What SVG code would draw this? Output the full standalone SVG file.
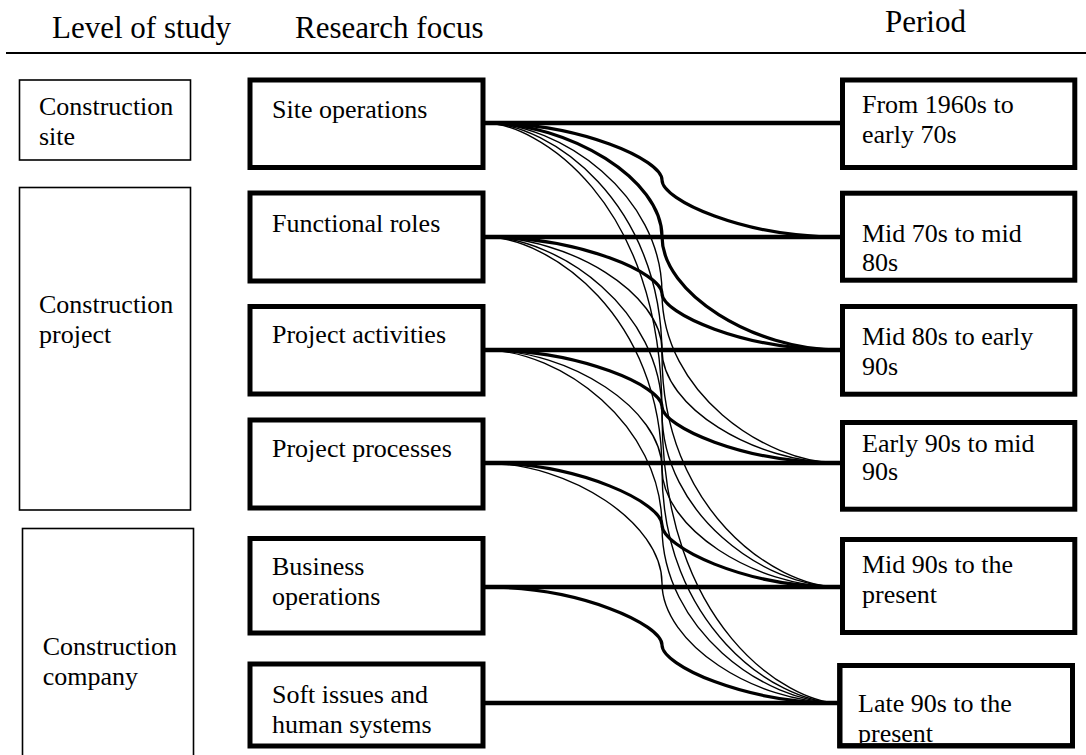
<svg xmlns="http://www.w3.org/2000/svg" width="1086" height="755" viewBox="0 0 1086 755">
<defs>
<style>
text{font-family:"Liberation Serif","Times New Roman",serif;fill:#000}
.hd{font-size:31px}
.tx{font-size:26px}
.lvl{fill:#fff;stroke:#000;stroke-width:1.6}
.box{fill:#fff;stroke:#000;stroke-width:5}
.hl{stroke:#000;stroke-width:4.5;fill:none}
.thick{stroke:#000;stroke-width:3.2;fill:none}
.thin{stroke:#000;stroke-width:1.4;fill:none}
</style>
<clipPath id="r6clip"><rect x="837" y="663" width="238" height="80"/></clipPath>
</defs>
<rect width="1086" height="755" fill="#fff"/>
<g id="header">
<text class="hd" x="52" y="38">Level of study</text>
<text class="hd" x="295" y="38">Research focus</text>
<text class="hd" x="885" y="32">Period</text>
<line x1="6" y1="53" x2="1086" y2="53" stroke="#000" stroke-width="2"/>
</g>
<g id="connectors">
<line class="hl" x1="483" y1="123" x2="843" y2="123"/>
<line class="hl" x1="483" y1="237" x2="843" y2="237"/>
<line class="hl" x1="483" y1="350" x2="843" y2="350"/>
<line class="hl" x1="483" y1="463" x2="843" y2="463"/>
<line class="hl" x1="483" y1="587" x2="843" y2="587"/>
<line class="hl" x1="483" y1="703" x2="840" y2="703"/>
<path class="thick" d="M485,123 C581,123 662,160 662,180 C662,200 743,237 839,237"/>
<path class="thick" d="M485,237 C581,237 662,273.7 662,293.5 C662,313.3 743,350 839,350"/>
<path class="thick" d="M485,350 C581,350 662,386.7 662,406.5 C662,426.3 743,463 839,463"/>
<path class="thick" d="M485,463 C581,463 662,503.3 662,525 C662,546.7 743,587 839,587"/>
<path class="thick" d="M485,587 C581,587 662,624.7 662,645 C662,665.3 743,703 839,703"/>
<path class="thick" d="M485,123 C570,123 662,179.75 662,236.5 C662,293.25 754,350 839,350"/>
<path class="thin" d="M485,237 C570,237 662,293.5 662,350 C662,406.5 754,463 839,463"/>
<path class="thin" d="M485,350 C570,350 662,409.25 662,468.5 C662,527.75 754,587 839,587"/>
<path class="thin" d="M485,463 C570,463 662,523 662,583 C662,643 754,703 839,703"/>
<path class="thin" d="M485,123 C560,123 662,194.4 662,293 C662,391.6 764,463 839,463"/>
<path class="thin" d="M485,237 C560,237 662,310.5 662,412 C662,513.5 764,587 839,587"/>
<path class="thin" d="M485,350 C560,350 662,424.1 662,526.5 C662,628.9 764,703 839,703"/>
<path class="thin" d="M485,123 C550,123 662,201.9 662,355 C662,508.1 774,587 839,587"/>
<path class="thin" d="M485,237 C550,237 662,316.2 662,470 C662,623.8 774,703 839,703"/>
<path class="thin" d="M485,123 C535,123 662,198 662,413 C662,628 789,703 839,703"/>
</g>
<g id="level-site">
<rect class="lvl" x="19.5" y="80" width="171" height="80"/>
<text class="tx" x="39" y="115">Construction</text>
<text class="tx" x="39" y="145">site</text>
</g>
<g id="level-project">
<rect class="lvl" x="19.5" y="187.5" width="171" height="322.5"/>
<text class="tx" x="39" y="313">Construction</text>
<text class="tx" x="39" y="343">project</text>
</g>
<g id="level-company">
<rect class="lvl" x="22.5" y="528.5" width="171" height="240"/>
<text class="tx" x="42.7" y="655">Construction</text>
<text class="tx" x="42.7" y="685">company</text>
</g>
<g id="focus-site-operations">
<rect class="box" x="250" y="80" width="233" height="87.5"/>
<text class="tx" x="272" y="118">Site operations</text>
</g>
<g id="focus-functional-roles">
<rect class="box" x="250" y="193" width="233" height="88"/>
<text class="tx" x="272" y="231.7">Functional roles</text>
</g>
<g id="focus-project-activities">
<rect class="box" x="250" y="306.5" width="233" height="87.5"/>
<text class="tx" x="272" y="343.3">Project activities</text>
</g>
<g id="focus-project-processes">
<rect class="box" x="250" y="420" width="233" height="88"/>
<text class="tx" x="272" y="457.3">Project processes</text>
</g>
<g id="focus-business-operations">
<rect class="box" x="250" y="538.5" width="233" height="94.5"/>
<text class="tx" x="272" y="575">Business</text>
<text class="tx" x="272" y="605">operations</text>
</g>
<g id="focus-soft-issues">
<rect class="box" x="250" y="664" width="233" height="82"/>
<text class="tx" x="272" y="703.3">Soft issues and</text>
<text class="tx" x="272" y="733.3">human systems</text>
</g>
<g id="period-1960s">
<rect class="box" x="842.5" y="80" width="232.3" height="87.5"/>
<text class="tx" x="862" y="113">From 1960s to</text>
<text class="tx" x="862" y="143">early 70s</text>
</g>
<g id="period-mid70s">
<rect class="box" x="842.5" y="193.2" width="232.3" height="87"/>
<text class="tx" x="862" y="241.7">Mid 70s to mid</text>
<text class="tx" x="862" y="270.7">80s</text>
</g>
<g id="period-mid80s">
<rect class="box" x="842.5" y="306.5" width="232.3" height="87.7"/>
<text class="tx" x="862" y="345">Mid 80s to early</text>
<text class="tx" x="862" y="375">90s</text>
</g>
<g id="period-early90s">
<rect class="box" x="842.5" y="422.5" width="232.3" height="86.7"/>
<text class="tx" x="862" y="451.7">Early 90s to mid</text>
<text class="tx" x="862" y="480">90s</text>
</g>
<g id="period-mid90s">
<rect class="box" x="842.5" y="539.5" width="232.3" height="93"/>
<text class="tx" x="862" y="573">Mid 90s to the</text>
<text class="tx" x="862" y="603">present</text>
</g>
<g id="period-late90s">
<rect class="box" x="839.8" y="665.5" width="232.7" height="80.3"/>
<g clip-path="url(#r6clip)">
<text class="tx" x="858" y="711.7">Late 90s to the</text>
<text class="tx" x="858" y="742">present</text>
</g>
<rect x="839.8" y="665.5" width="232.7" height="80.3" fill="none" stroke="#000" stroke-width="5"/>
</g>
</svg>
